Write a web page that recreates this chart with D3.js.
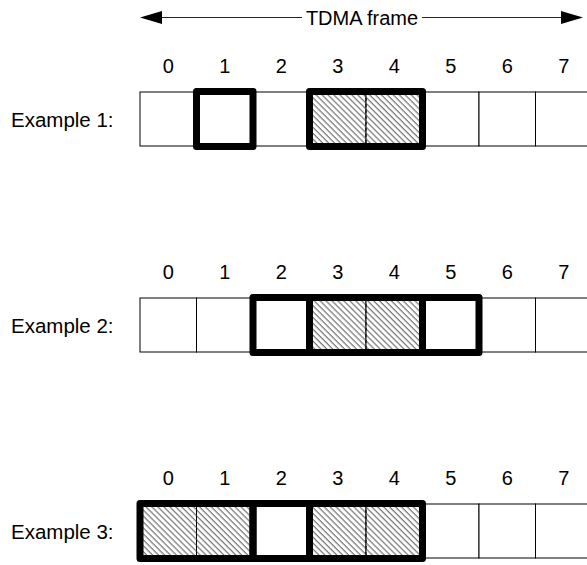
<!DOCTYPE html>
<html>
<head>
<meta charset="utf-8">
<script src="https://cdn.jsdelivr.net/npm/d3@7"></script>
<style>
  html, body { margin: 0; padding: 0; background: #fff; }
  svg { display: block; font-family: "Liberation Sans", Arial, sans-serif; }
</style>
</head>
<body>
<svg id="chart" width="587" height="565"></svg>
<script>
// ---- data ----
const slots = [0, 1, 2, 3, 4, 5, 6, 7];
const slotLabels = ["0", "1", "2", "3", "4", "5", "6", "7"];
const exampleNames = ["Example 1:", "Example 2:", "Example 3:"];
// groups of allocated slots per example: [startSlot, lengthInSlots, hatched]
const example1Groups = [[1, 1, false], [3, 2, true]];
const example2Groups = [[2, 1, false], [3, 2, true], [5, 1, false]];
const example3Groups = [[0, 2, true], [2, 1, false], [3, 2, true]];
const exampleGroups = [example1Groups, example2Groups, example3Groups];
const frameTitle = "TDMA frame";

// ---- layout ----
const svg = d3.select("#chart");
const cellW = 56.5, rowH = 54;
const x = d3.scaleLinear().domain([0, slots.length]).range([140, 140 + slots.length * cellW]);
const y = d3.scaleLinear().domain([0, exampleNames.length - 1]).range([92, 504]);

// hatch pattern
const defs = svg.append("defs");
const pat = defs.append("pattern")
  .attr("id", "hatch")
  .attr("patternUnits", "userSpaceOnUse")
  .attr("width", 4.2).attr("height", 10)
  .attr("patternTransform", "rotate(-45)");
pat.append("line")
  .attr("x1", 1).attr("y1", 0).attr("x2", 1).attr("y2", 10)
  .attr("stroke", "#444").attr("stroke-width", 0.9);

// ---- frame arrow ----
const arrowY = 17.5;
const xL = 140, xR = 583, headL = 22, headH = 6.5;
svg.append("line")
  .attr("x1", xL + headL).attr("x2", xR - headL)
  .attr("y1", arrowY).attr("y2", arrowY)
  .attr("stroke", "#222").attr("stroke-width", 1.2);
svg.append("path")
  .attr("d", `M${xL},${arrowY} L${xL + headL},${arrowY - headH} L${xL + headL},${arrowY + headH} Z`)
  .attr("fill", "#000");
svg.append("path")
  .attr("d", `M${xR},${arrowY} L${xR - headL},${arrowY - headH} L${xR - headL},${arrowY + headH} Z`)
  .attr("fill", "#000");
const titleX = 362;
svg.append("rect")
  .attr("x", titleX - 60).attr("y", 5).attr("width", 120).attr("height", 24)
  .attr("fill", "#fff");
svg.append("text")
  .attr("x", titleX).attr("y", 24.5)
  .attr("text-anchor", "middle")
  .attr("font-size", 20)
  .attr("fill", "#000")
  .text(frameTitle);

// ---- rows ----
exampleNames.forEach((name, r) => {
  const top = y(r);
  const g = svg.append("g");

  // row label
  g.append("text")
    .attr("x", 11).attr("y", top + rowH / 2 + 7.5)
    .attr("font-size", 20.5)
    .attr("fill", "#000")
    .text(name);

  // slot numbers
  g.selectAll("text.slot").data(slots).join("text")
    .attr("class", "slot")
    .attr("x", d => (x(d) + x(d + 1)) / 2)
    .attr("y", top - 19)
    .attr("text-anchor", "middle")
    .attr("font-size", 20)
    .attr("fill", "#000")
    .text(d => slotLabels[d]);

  // thin cells
  g.selectAll("rect.cell").data(slots).join("rect")
    .attr("class", "cell")
    .attr("x", d => x(d)).attr("y", top)
    .attr("width", cellW).attr("height", rowH)
    .attr("fill", "#fff")
    .attr("stroke", "#000").attr("stroke-width", 1);

  const groups = exampleGroups[r];
  // hatched fill
  g.selectAll("rect.hatch").data(groups.filter(d => d[2])).join("rect")
    .attr("class", "hatch")
    .attr("x", d => x(d[0])).attr("y", top)
    .attr("width", d => x(d[0] + d[1]) - x(d[0])).attr("height", rowH)
    .attr("fill", "url(#hatch)");
  // dashed dividers inside multi-slot groups
  groups.filter(d => d[1] > 1).forEach(d => {
    for (let k = 1; k < d[1]; k++) {
      g.append("line")
        .attr("x1", x(d[0] + k)).attr("x2", x(d[0] + k))
        .attr("y1", top).attr("y2", top + rowH)
        .attr("stroke", "#000").attr("stroke-width", 1)
        .attr("stroke-dasharray", "3,3");
    }
  });
  // thick group outlines
  g.selectAll("rect.grp").data(groups).join("rect")
    .attr("class", "grp")
    .attr("x", d => x(d[0])).attr("y", top - 0.5)
    .attr("width", d => x(d[0] + d[1]) - x(d[0])).attr("height", rowH + 1)
    .attr("fill", "none")
    .attr("stroke", "#000").attr("stroke-width", 7)
    .attr("stroke-linejoin", "round");
});
</script>
</body>
</html>
